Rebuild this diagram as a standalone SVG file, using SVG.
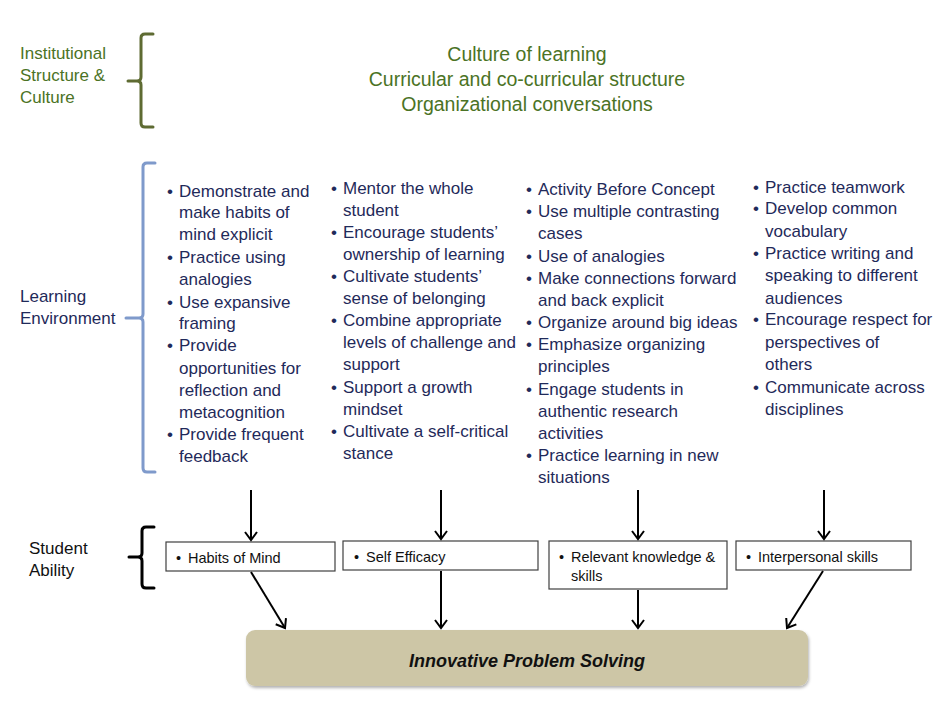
<svg xmlns="http://www.w3.org/2000/svg" width="950" height="713" viewBox="0 0 950 713">
<style>
  text { font-family: "Liberation Sans", Arial, sans-serif; }
  .lbl { font-size: 17px; }
  .green { fill: #4b7325; }
  .navy { fill: #1f2a5a; }
  .top { font-size: 19.5px; text-anchor: middle; }
  .li { font-size: 17px; fill: #1f2a5a; }
  .box { fill: #ffffff; stroke: #404040; stroke-width: 1.2; }
  .bt { font-size: 14.5px; fill: #111111; }
  .brace { fill: none; stroke-width: 3; stroke-linecap: round; stroke-linejoin: round; }
  .arr { stroke: #000000; stroke-width: 2; fill: none; marker-end: url(#ah); }
</style>
<defs>
  <marker id="ah" markerWidth="14" markerHeight="14" refX="10" refY="7" orient="auto" markerUnits="userSpaceOnUse">
    <path d="M2,1 L10,7 L2,13" fill="none" stroke="#000" stroke-width="2"/>
  </marker>
  <filter id="sh" x="-5%" y="-20%" width="110%" height="150%">
    <feDropShadow dx="1" dy="2" stdDeviation="1.5" flood-color="#000" flood-opacity="0.3"/>
  </filter>
</defs>
<rect width="950" height="713" fill="#ffffff"/>

<g id="institutional">
  <text class="lbl green" x="20" y="59">Institutional</text>
  <text class="lbl green" x="20" y="81">Structure &amp;</text>
  <text class="lbl green" x="20" y="103">Culture</text>
  <path class="brace" stroke="#5e6b32" d="M153,34 L145,34 Q141,34 141,38 L141,77 Q141,81 137,81 L128,81 M137,81 Q141,81 141,85 L141,123 Q141,127 145,127 L153,127"/>
  <text class="top green" x="527" y="61">Culture of learning</text>
  <text class="top green" x="527" y="86">Curricular and co-curricular structure</text>
  <text class="top green" x="527" y="111">Organizational conversations</text>
</g>

<g id="learning-environment">
  <text class="lbl navy" x="20" y="302">Learning</text>
  <text class="lbl navy" x="20" y="324">Environment</text>
  <path class="brace" stroke="#7f9acb" d="M155,163 L147,163 Q143,163 143,167 L143,314 Q143,318 139,318 L126,318 M139,318 Q143,318 143,322 L143,468 Q143,472 147,472 L155,472"/>
</g>

<g id="col1">
  <text class="li" x="167" y="197">•</text><text class="li" x="179" y="197">Demonstrate and</text>
  <text class="li" x="179" y="218">make habits of</text>
  <text class="li" x="179" y="240">mind explicit</text>
  <text class="li" x="167" y="263">•</text><text class="li" x="179" y="263">Practice using</text>
  <text class="li" x="179" y="285">analogies</text>
  <text class="li" x="167" y="308">•</text><text class="li" x="179" y="308">Use expansive</text>
  <text class="li" x="179" y="329">framing</text>
  <text class="li" x="167" y="351">•</text><text class="li" x="179" y="351">Provide</text>
  <text class="li" x="179" y="374">opportunities for</text>
  <text class="li" x="179" y="396">reflection and</text>
  <text class="li" x="179" y="418">metacognition</text>
  <text class="li" x="167" y="440">•</text><text class="li" x="179" y="440">Provide frequent</text>
  <text class="li" x="179" y="462">feedback</text>
</g>

<g id="col2">
  <text class="li" x="331" y="194">•</text><text class="li" x="343" y="194">Mentor the whole</text>
  <text class="li" x="343" y="216">student</text>
  <text class="li" x="331" y="238">•</text><text class="li" x="343" y="238">Encourage students’</text>
  <text class="li" x="343" y="260">ownership of learning</text>
  <text class="li" x="331" y="282">•</text><text class="li" x="343" y="282">Cultivate students’</text>
  <text class="li" x="343" y="304">sense of belonging</text>
  <text class="li" x="331" y="326">•</text><text class="li" x="343" y="326">Combine appropriate</text>
  <text class="li" x="343" y="348">levels of challenge and</text>
  <text class="li" x="343" y="370">support</text>
  <text class="li" x="331" y="393">•</text><text class="li" x="343" y="393">Support a growth</text>
  <text class="li" x="343" y="415">mindset</text>
  <text class="li" x="331" y="437">•</text><text class="li" x="343" y="437">Cultivate a self-critical</text>
  <text class="li" x="343" y="459">stance</text>
</g>

<g id="col3">
  <text class="li" x="526" y="195">•</text><text class="li" x="538" y="195">Activity Before Concept</text>
  <text class="li" x="526" y="217">•</text><text class="li" x="538" y="217">Use multiple contrasting</text>
  <text class="li" x="538" y="239">cases</text>
  <text class="li" x="526" y="262">•</text><text class="li" x="538" y="262">Use of analogies</text>
  <text class="li" x="526" y="284">•</text><text class="li" x="538" y="284">Make connections forward</text>
  <text class="li" x="538" y="306">and back explicit</text>
  <text class="li" x="526" y="328">•</text><text class="li" x="538" y="328">Organize around big ideas</text>
  <text class="li" x="526" y="350">•</text><text class="li" x="538" y="350">Emphasize organizing</text>
  <text class="li" x="538" y="372">principles</text>
  <text class="li" x="526" y="395">•</text><text class="li" x="538" y="395">Engage students in</text>
  <text class="li" x="538" y="417">authentic research</text>
  <text class="li" x="538" y="439">activities</text>
  <text class="li" x="526" y="461">•</text><text class="li" x="538" y="461">Practice learning in new</text>
  <text class="li" x="538" y="483">situations</text>
</g>

<g id="col4">
  <text class="li" x="753" y="193">•</text><text class="li" x="765" y="193">Practice teamwork</text>
  <text class="li" x="753" y="214">•</text><text class="li" x="765" y="214">Develop common</text>
  <text class="li" x="765" y="237">vocabulary</text>
  <text class="li" x="753" y="259">•</text><text class="li" x="765" y="259">Practice writing and</text>
  <text class="li" x="765" y="281">speaking to different</text>
  <text class="li" x="765" y="304">audiences</text>
  <text class="li" x="753" y="325">•</text><text class="li" x="765" y="325">Encourage respect for</text>
  <text class="li" x="765" y="348">perspectives of</text>
  <text class="li" x="765" y="370">others</text>
  <text class="li" x="753" y="393">•</text><text class="li" x="765" y="393">Communicate across</text>
  <text class="li" x="765" y="415">disciplines</text>
</g>

<g id="student-ability">
  <text class="lbl" x="29" y="554" fill="#111">Student</text>
  <text class="lbl" x="29" y="576" fill="#111">Ability</text>
  <path class="brace" stroke="#000000" d="M154,527 L146,527 Q142,527 142,531 L142,553 Q142,557 138,557 L129,557 M138,557 Q142,557 142,561 L142,584 Q142,588 146,588 L154,588"/>
</g>

<g id="box-habits">
  <rect class="box" x="166" y="542" width="169" height="29"/>
  <text class="bt" x="176" y="563">•</text><text class="bt" x="188" y="563">Habits of Mind</text>
</g>
<g id="box-efficacy">
  <rect class="box" x="343" y="541" width="195" height="29"/>
  <text class="bt" x="354" y="562">•</text><text class="bt" x="366" y="562">Self Efficacy</text>
</g>
<g id="box-knowledge">
  <rect class="box" x="549" y="541" width="178" height="48"/>
  <text class="bt" x="559" y="562">•</text><text class="bt" x="571" y="562">Relevant knowledge &amp;</text>
  <text class="bt" x="571" y="581">skills</text>
</g>
<g id="box-interpersonal">
  <rect class="box" x="736" y="541" width="175" height="29"/>
  <text class="bt" x="746" y="562">•</text><text class="bt" x="758" y="562">Interpersonal skills</text>
</g>

<g id="outcome">
  <rect x="246" y="630" width="562" height="56" rx="9" ry="9" fill="#cdc6a6" filter="url(#sh)"/>
  <text x="527" y="667" font-size="18" font-weight="bold" font-style="italic" text-anchor="middle" fill="#111">Innovative Problem Solving</text>
</g>

<g id="connectors">
  <line class="arr" x1="251" y1="490" x2="251" y2="540"/>
  <line class="arr" x1="441" y1="490" x2="441" y2="539"/>
  <line class="arr" x1="638" y1="490" x2="638" y2="539"/>
  <line class="arr" x1="824" y1="490" x2="824" y2="539"/>
  <line class="arr" x1="251" y1="572" x2="285" y2="628"/>
  <line class="arr" x1="441" y1="571" x2="441" y2="628"/>
  <line class="arr" x1="638" y1="590" x2="638" y2="628"/>
  <line class="arr" x1="823" y1="571" x2="787" y2="628"/>
</g>
</svg>
